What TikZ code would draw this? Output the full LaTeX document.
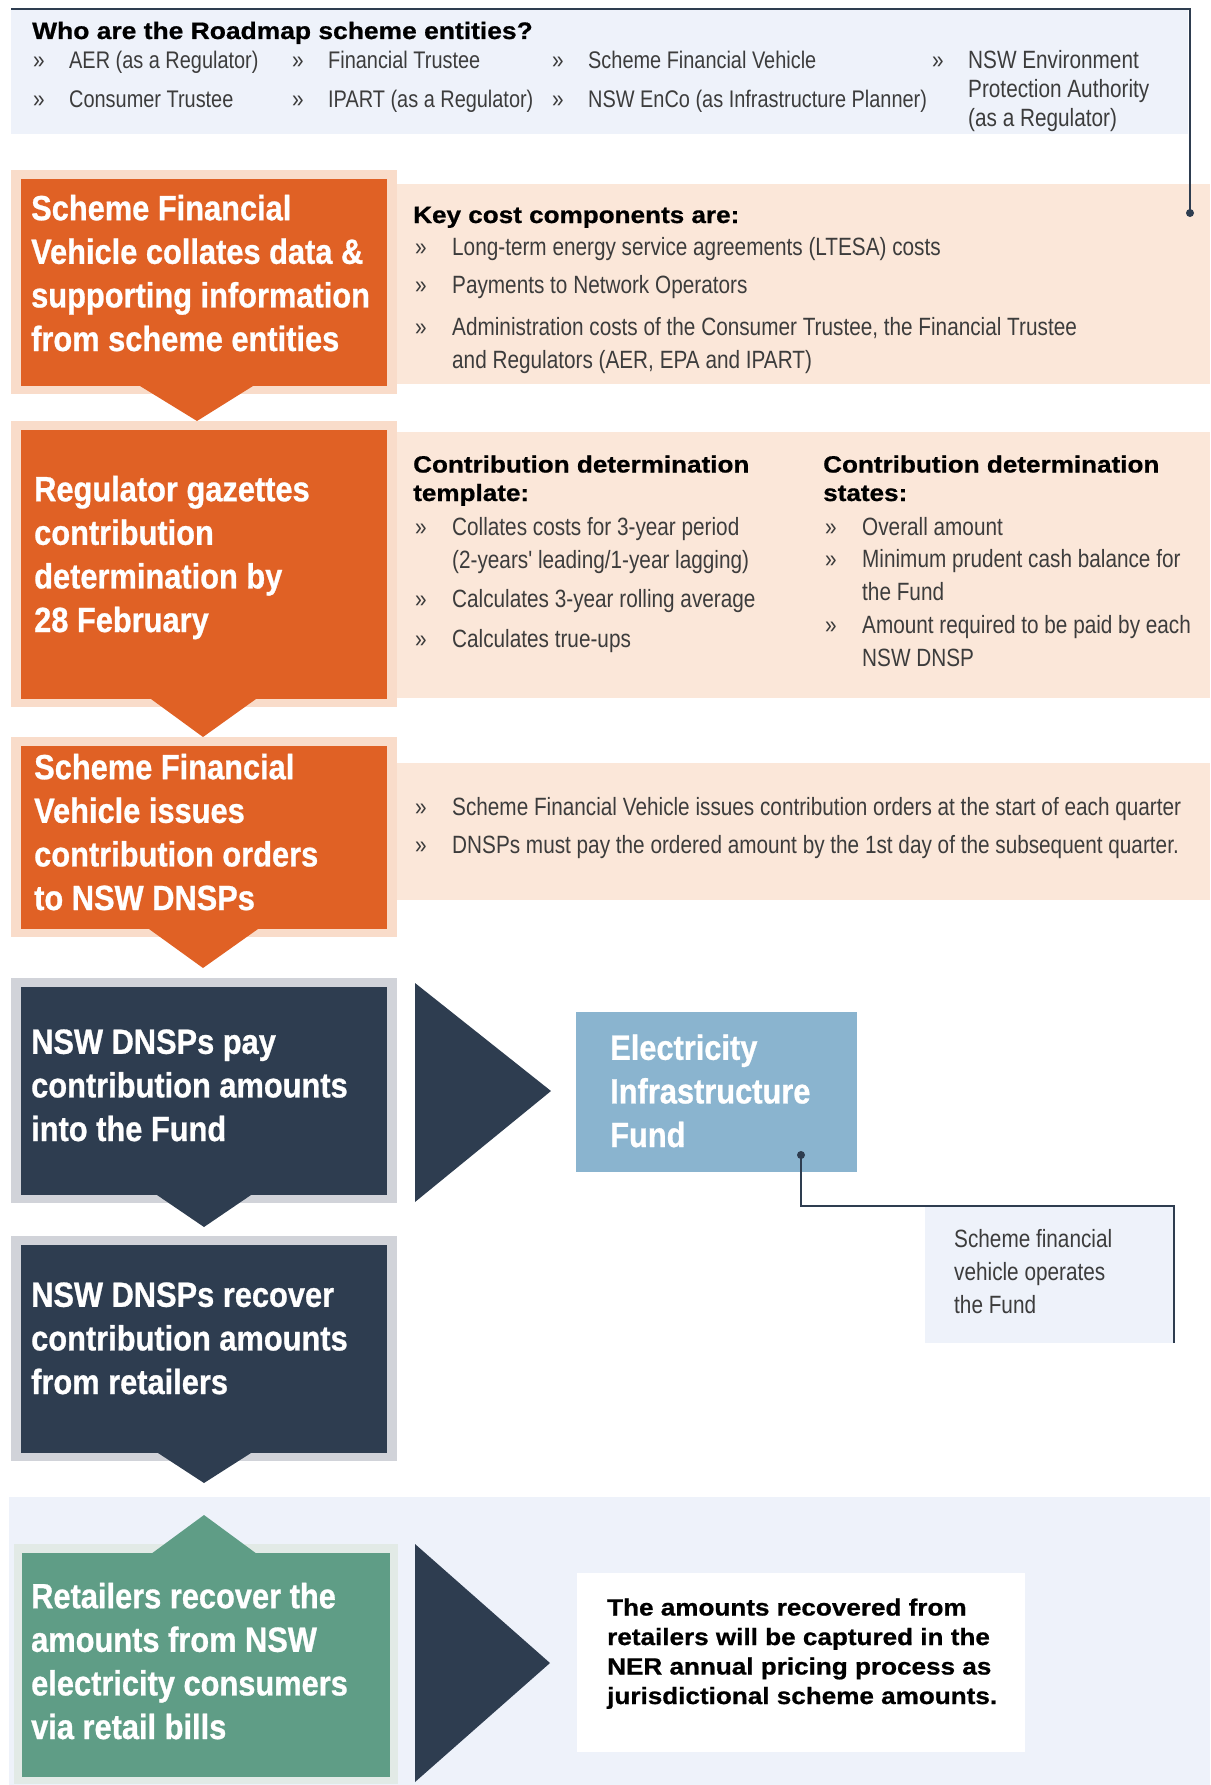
\documentclass[tikz,border=0pt]{standalone}
\usepackage{fontspec}
\setmainfont{Liberation Sans}
\newfontfamily\bodyfont{Liberation Sans}[FakeStretch=0.83]
\newfontfamily\headfont{Liberation Sans}[FakeStretch=0.88,FakeBold=0.8]
\newfontfamily\keyfont{Liberation Sans}[FakeStretch=1.11,FakeBold=0.8]

\definecolor{orangec}{HTML}{E06125}
\definecolor{peachout}{HTML}{F9DCCA}
\definecolor{peachpanel}{HTML}{FBE7D9}
\definecolor{navyc}{HTML}{2E3D50}
\definecolor{grayout}{HTML}{D1D3D9}
\definecolor{paleblue}{HTML}{EEF2FA}
\definecolor{fundblue}{HTML}{8AB4CF}
\definecolor{greenc}{HTML}{5F9D86}
\definecolor{greenout}{HTML}{E2EAE6}
\definecolor{txtgray}{HTML}{3C3C3C}

% multi-line nodes sit on the baseline of their last line
\tikzset{
  bodytxt/.style={font=\bodyfont\fontsize{25}{33}\selectfont, text=txtgray, align=left, anchor=base west, inner sep=0pt},
  bultxt/.style={font=\bodyfont\fontsize{25}{33}\selectfont, text=txtgray, anchor=base west, inner sep=0pt},
  headtxt/.style={font=\headfont\bfseries\fontsize{35}{43.6}\selectfont, text=white, align=left, anchor=base west, inner sep=0pt},
  keytxt/.style={font=\keyfont\bfseries\fontsize{23.5}{28.5}\selectfont, text=black, align=left, anchor=base west, inner sep=0pt},
  leader/.style={draw=navyc, line width=1.7pt}
}

\begin{document}
\begin{tikzpicture}[x=1pt,y=-1pt]
\useasboundingbox (0,0) rectangle (1210,1785);

\coordinate (cTopL) at (11,9);
\coordinate (cTopR) at (1190,9);
\coordinate (cKeyDot) at (1190,213);
\coordinate (cFundDot) at (801,1155);
\coordinate (cFundBend) at (801,1206);
\coordinate (cNoteR) at (1174,1206);
\coordinate (cNoteB) at (1174,1343);

% entities box
\fill[paleblue] (11,9) rectangle (1188,134);
\node[keytxt, font=\keyfont\bfseries\fontsize{23.8}{28.5}\selectfont] (tWho) at (32,39) {Who are the Roadmap scheme entities?};
\foreach \n/\x/\y/\t in
{   a/33/68/AER (as a Regulator),
    b/292/68/Financial Trustee,
    c/552/68/Scheme Financial Vehicle,
    e/33/107/Consumer Trustee,
    f/292/107/IPART (as a Regulator),
    g/552/107/NSW EnCo (as Infrastructure Planner)}
{
    \node[bultxt] (eb\n) at (\x,\y) {»};
    \node[bodytxt, font=\bodyfont\fontsize{24}{33}\selectfont] (et\n) at (\x+36,\y) {\t};
};
\node[bultxt] (ebd) at (932,68) {»};
\node[bodytxt, font=\bodyfont\fontsize{25}{29}\selectfont] (etd) at (968,126) {NSW Environment\\Protection Authority\\(as a Regulator)};

% peach panels
\fill[peachpanel] (396,184) rectangle (1210,384);
\fill[peachpanel] (396,432) rectangle (1210,698);
\fill[peachpanel] (396,763) rectangle (1210,900);

% bottom band
\fill[paleblue] (9,1497) rectangle (1210,1785);

% left step boxes
\foreach \yt/\yb/\co/\ci/\bl/\br/\ax/\ay in
{   170/394/peachout/orangec/140/253/197/421,
    421/707/peachout/orangec/151/256/203/737,
    737/937/peachout/orangec/149/258/203/968,
    978/1203/grayout/navyc/157/251/204/1227,
    1236/1461/grayout/navyc/158/251/204/1483}
{
    \fill[\co] (11,\yt) rectangle (397,\yb);
    \fill[\ci] (21,\yt+9) rectangle (387,\yb-8);
    \fill[\ci] (\bl,\yb-8) -- (\br,\yb-8) -- (\ax,\ay) -- cycle;
};
\fill[greenout] (14,1544) rectangle (398,1784);
\fill[greenc] (22,1553) rectangle (390,1777);
\fill[greenc] (151,1554) -- (257,1554) -- (204,1515) -- cycle;

% chevrons
\fill[navyc] (415,983) -- (551,1091) -- (415,1202) -- cycle;
\fill[navyc] (415,1544) -- (550,1663) -- (415,1782) -- cycle;

% fund and notes
\fill[fundblue] (576,1012) rectangle (857,1172);
\fill[paleblue] (925,1206) rectangle (1174,1343);
\fill[white] (577,1573) rectangle (1025,1752);

\draw[leader] (cTopL) -- (cTopR) -- (cKeyDot);
\fill[navyc] (cKeyDot) circle (4);
\draw[leader] (cFundDot) -- (cFundBend) -- (cNoteR) -- (cNoteB);
\fill[navyc] (cFundDot) circle (4);

% step headings
\node[headtxt] (hCollate) at (31,351) {Scheme Financial\\Vehicle collates data \&\\supporting information\\from scheme entities};
\node[headtxt] (hGazette) at (34,632) {Regulator gazettes\\contribution\\determination by\\28 February};
\node[headtxt] (hOrders) at (34,910) {Scheme Financial\\Vehicle issues\\contribution orders\\to NSW DNSPs};
\node[headtxt] (hPay) at (31,1141) {NSW DNSPs pay\\contribution amounts\\into the Fund};
\node[headtxt] (hRecover) at (31,1394) {NSW DNSPs recover\\contribution amounts\\from retailers};
\node[headtxt] (hRetail) at (31,1739) {Retailers recover the\\amounts from NSW\\electricity consumers\\via retail bills};
\node[headtxt] (hFund) at (610,1147) {Electricity\\Infrastructure\\Fund};

% key costs
\node[keytxt] (tKey) at (413,223) {Key cost components are:};
\foreach \n/\y/\l/\t in
{   a/255/255/Long-term energy service agreements (LTESA) costs,
    b/293/293/Payments to Network Operators,
    c/335/368/{Administration costs of the Consumer Trustee, the Financial Trustee\\and Regulators (AER, EPA and IPART)}}
{
    \node[bultxt] (kb\n) at (415,\y) {»};
    \node[bodytxt] (kt\n) at (452,\l) {\t};
};

% determination
\node[keytxt] (tTempl) at (413,501) {Contribution determination\\template:};
\node[keytxt] (tStates) at (823,501) {Contribution determination\\states:};
\foreach \n/\x/\y/\l/\t in
{   a/415/535/568/{Collates costs for 3-year period\\(2-years' leading/1-year lagging)},
    b/415/607/607/Calculates 3-year rolling average,
    c/415/647/647/Calculates true-ups,
    d/825/535/535/Overall amount,
    e/825/567/600/{Minimum prudent cash balance for\\the Fund},
    f/825/633/666/{Amount required to be paid by each\\NSW DNSP}}
{
    \node[bultxt] (db\n) at (\x,\y) {»};
    \node[bodytxt] (dt\n) at (\x+37,\l) {\t};
};

% orders
\foreach \n/\y/\t in
{   a/815/Scheme Financial Vehicle issues contribution orders at the start of each quarter,
    b/853/DNSPs must pay the ordered amount by the 1st day of the subsequent quarter.}
{
    \node[bultxt] (ob\n) at (415,\y) {»};
    \node[bodytxt] (ot\n) at (452,\y) {\t};
};

\node[bodytxt] (tOperates) at (954,1313) {Scheme financial\\vehicle operates\\the Fund};
\node[keytxt, font=\keyfont\bfseries\fontsize{23.5}{29.5}\selectfont] (tNER) at (607,1704) {The amounts recovered from\\retailers will be captured in the\\NER annual pricing process as\\jurisdictional scheme amounts.};
\end{tikzpicture}
\end{document}
